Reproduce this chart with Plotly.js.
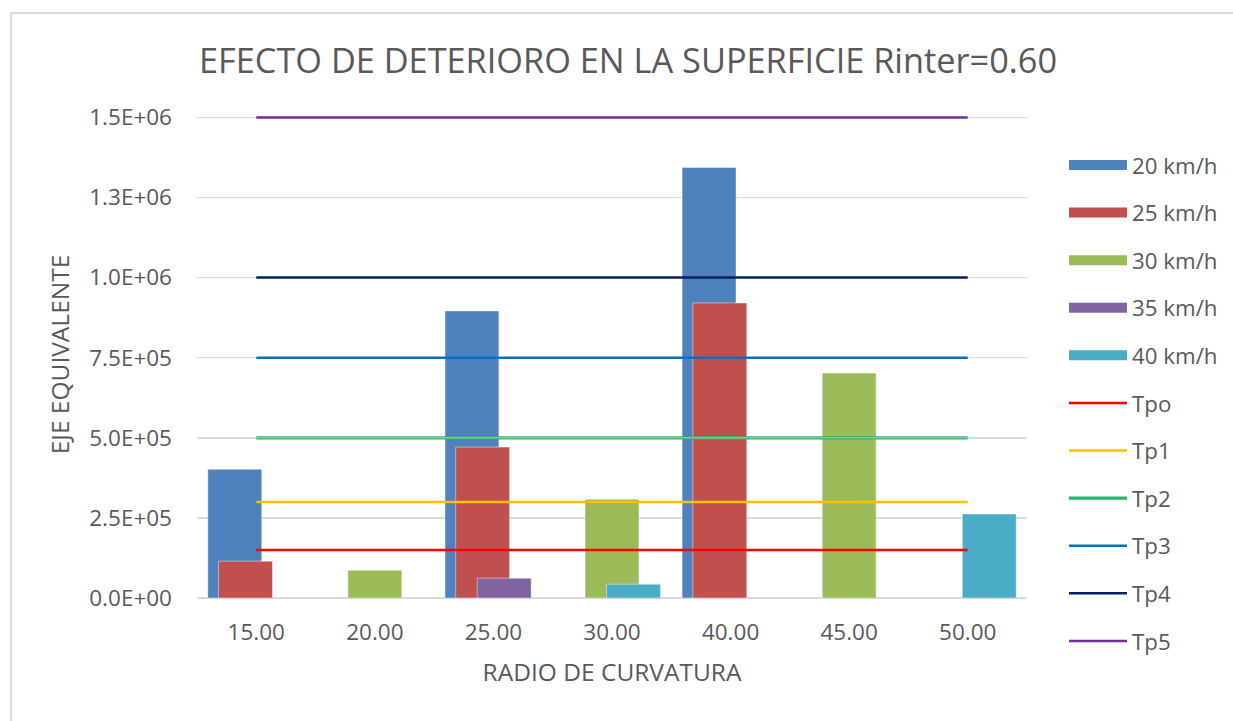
<!DOCTYPE html>
<html>
<head>
<meta charset="utf-8">
<script src="https://cdn.plot.ly/plotly-3.0.1.min.js"></script>
<style>
  html, body { margin: 0; padding: 0; background: #fff; overflow: hidden; }
  #chart { position: absolute; left: 0; top: 0; width: 1233px; height: 721px; }
  #frame { position: absolute; left: 10px; top: 12px; width: 1240px; height: 730px;
           border: 2px solid #d9d9d9; pointer-events: none; box-sizing: border-box; }
</style>
</head>
<body>
<div id="chart"></div>
<div id="frame"></div>
<script>
// ---- data ----
const categories = ["15.00", "20.00", "25.00", "30.00", "40.00", "45.00", "50.00"];
const barNames = ["20 km/h", "25 km/h", "30 km/h", "35 km/h", "40 km/h"];
const v20 = [402000, null, 896000, null, 1344000, null, null];
const v25 = [115000, null, 471000, null, 921000, null, null];
const v30 = [null, 87000, null, 308000, null, 702000, null];
const v35 = [null, null, 62000, null, null, null, null];
const v40 = [null, null, null, 43000, null, null, 262000];
const barValues = [v20, v25, v30, v35, v40];
const barColors = ["#4F81BD", "#C0504D", "#9BBB59", "#8064A2", "#4BACC6"];

const lineNames = ["Tpo", "Tp1", "Tp2", "Tp3", "Tp4", "Tp5"];
const lineLevels = [150000, 300000, 500000, 750000, 1000000, 1500000];
const lineColors = ["#FF0000", "#FFC000", "#2DB36A", "#0070C0", "#002060", "#7030A0"];

const yTickVals = [0, 250000, 500000, 750000, 1000000, 1250000, 1500000];
const yTickText = ["0.0E+00", "2.5E+05", "5.0E+05", "7.5E+05", "1.0E+06", "1.3E+06", "1.5E+06"];

// ---- traces ----
const FONT = "'Open Sans', 'Noto Sans', sans-serif";
const TXT = "#595959";
const barW = 0.455;
const step = 0.0907;
const traces = [];
barNames.forEach((name, i) => {
  const center = (i - 2) * step;
  traces.push({
    type: "bar",
    name: name,
    x: categories,
    y: barValues[i],
    width: barW,
    offset: center - barW / 2,
    marker: { color: barColors[i], line: { color: "rgba(255,255,255,0.45)", width: 1 } },
    legendgroup: "g" + i,
    showlegend: false
  });
});
// legend proxies for bars (wide rectangle swatches like the original)
barNames.forEach((name, i) => {
  traces.push({
    type: "scatter",
    mode: "lines",
    name: name,
    x: [null],
    y: [null],
    line: { color: barColors[i], width: 14 },
    legendgroup: "g" + i,
    showlegend: true
  });
});
lineNames.forEach((name, j) => {
  traces.push({
    type: "scatter",
    mode: "lines",
    name: name,
    x: categories,
    y: categories.map(() => lineLevels[j]),
    line: { color: lineColors[j], width: name === "Tp2" ? 3.2 : 2.5 },
    legendgroup: "l" + j,
    cliponaxis: false
  });
  if (name === "Tp2") {
    traces.push({
      type: "scatter",
      mode: "lines",
      name: name,
      x: categories,
      y: categories.map(() => lineLevels[j]),
      line: { color: "rgba(255,255,255,0.5)", width: 1 },
      legendgroup: "l" + j,
      showlegend: false
    });
  }
});

const layout = {
  width: 1233,
  height: 721,
  paper_bgcolor: "#ffffff",
  plot_bgcolor: "#ffffff",
  font: { family: FONT, color: TXT, size: 22 },
  margin: { l: 197, r: 206, t: 111, b: 123 },
  barmode: "overlay",
  showlegend: true,
  title: {
    text: "EFECTO DE DETERIORO EN LA SUPERFICIE Rinter=0.60",
    font: { family: FONT, size: 34.3, color: TXT },
    x: 628 / 1233, xref: "container", xanchor: "center",
    y: 1 - 61 / 721, yref: "container", yanchor: "middle"
  },
  xaxis: {
    type: "category",
    range: [-0.5, 6.5],
    showgrid: false,
    zeroline: false,
    showline: false,
    ticks: "",
    ticklabelstandoff: 18,
    tickfont: { family: FONT, size: 22.5, color: TXT },
    title: { text: "RADIO DE CURVATURA", font: { family: FONT, size: 24.5, color: TXT }, standoff: 18 }
  },
  yaxis: {
    range: [0, 1520000],
    tickvals: yTickVals,
    ticktext: yTickText,
    showgrid: true,
    gridcolor: "#d9d9d9",
    gridwidth: 1.5,
    zeroline: true,
    zerolinecolor: "#d9d9d9",
    zerolinewidth: 1.5,
    showline: false,
    ticks: "",
    ticklabelstandoff: 24,
    tickfont: { family: FONT, size: 22.5, color: TXT },
    title: { text: "EJE EQUIVALENTE", font: { family: FONT, size: 24.5, color: TXT }, standoff: 12 }
  },
  legend: {
    xref: "container", yref: "container",
    x: 1064 / 1233, y: 1 - 144 / 721,
    xanchor: "left", yanchor: "top",
    traceorder: "grouped",
    tracegroupgap: 15.6,
    itemwidth: 58,
    maxheight: 700,
    font: { family: FONT, size: 22.3, color: TXT },
    bgcolor: "rgba(0,0,0,0)"
  }
};

Plotly.newPlot("chart", traces, layout, { displayModeBar: false, staticPlot: true });
</script>
</body>
</html>
